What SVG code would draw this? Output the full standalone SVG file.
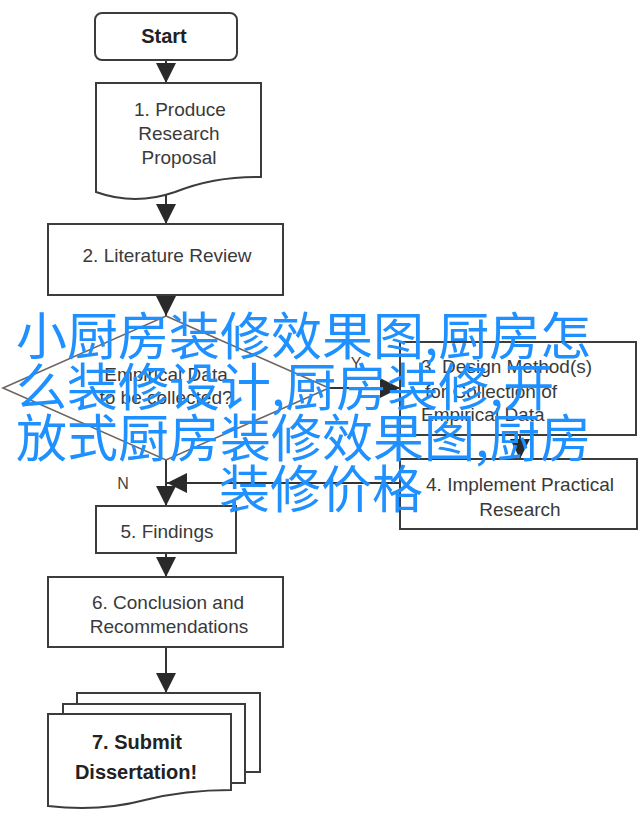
<svg xmlns="http://www.w3.org/2000/svg" width="640" height="814" viewBox="0 0 640 814">
<style>
.box{fill:#fff;stroke:#3c3c3c;stroke-width:2}
.dia{fill:#fff;stroke:#6e6460;stroke-width:1.6}
.t{font-family:"Liberation Sans",Arial,sans-serif;font-size:19px;fill:#3a3a3a;text-anchor:middle}
.b{font-weight:bold;font-size:20px;fill:#222}
.s{font-size:16px;fill:#444}
.l{text-anchor:start}
.c{stroke:#333;stroke-width:2;fill:none}
.wm{font-family:"Noto Sans CJK SC","Noto Sans CJK JP",sans-serif;font-size:51px;fill:#1e90ff}
</style>
<defs>
<marker id="ah" viewBox="0 0 20 20" refX="20" refY="10" markerWidth="20" markerHeight="20" markerUnits="userSpaceOnUse" orient="auto">
<path d="M0,0 L20,10 L0,20 Z" fill="#2a2a2a"/>
</marker>
</defs>
<rect width="640" height="814" fill="#fff"/>
<g id="connectors">
<line class="c" x1="166" y1="60" x2="166" y2="83" marker-end="url(#ah)"/>
<line class="c" x1="166" y1="194" x2="166" y2="224" marker-end="url(#ah)"/>
<line class="c" x1="166" y1="295" x2="166" y2="316" marker-end="url(#ah)"/>
<line class="c" x1="329" y1="388" x2="400" y2="388" marker-end="url(#ah)"/>
<line class="c" x1="520" y1="435" x2="520" y2="459" marker-end="url(#ah)"/>
<line class="c" x1="400" y1="483" x2="167" y2="483" marker-end="url(#ah)"/>
<line class="c" x1="166" y1="460" x2="166" y2="506" marker-end="url(#ah)"/>
<line class="c" x1="166" y1="553" x2="166" y2="577" marker-end="url(#ah)"/>
<line class="c" x1="166" y1="647" x2="166" y2="693" marker-end="url(#ah)"/>
<text class="t s" x="356" y="369">Y</text>
<text class="t s" x="123" y="489">N</text>
</g>
<g id="start">
<rect class="box" x="95" y="13" width="142" height="47" rx="7"/>
<text class="t b" x="164" y="43">Start</text>
</g>
<g id="step1">
<path class="box" d="M96,83 H261 V177 Q215,176 175,192 Q135,206 96,192 Z"/>
<text class="t" x="180" y="116">1. Produce</text>
<text class="t" x="179" y="140">Research</text>
<text class="t" x="179" y="164">Proposal</text>
</g>
<g id="step2">
<rect class="box" x="48" y="224" width="235" height="71"/>
<text class="t" x="167" y="262">2. Literature Review</text>
</g>
<g id="decision">
<polygon class="dia" points="166,316 329,388 166,460 3,388"/>
<text class="t" x="166" y="381">Empirical Data</text>
<text class="t" x="166" y="404">to be collected?</text>
</g>
<g id="step3">
<rect class="box" x="400" y="342" width="236" height="93"/>
<text class="t l" x="421" y="373">3. Design Method(s)</text>
<text class="t l" x="425" y="398">for Collection of</text>
<text class="t l" x="421" y="421">Empirical Data</text>
</g>
<g id="step4">
<rect class="box" x="400" y="459" width="237" height="70"/>
<text class="t" x="520" y="491">4. Implement Practical</text>
<text class="t" x="520" y="516">Research</text>
</g>
<g id="step5">
<rect class="box" x="96" y="506" width="140" height="47"/>
<text class="t" x="167" y="538">5. Findings</text>
</g>
<g id="step6">
<rect class="box" x="48" y="577" width="235" height="70"/>
<text class="t" x="168" y="609">6. Conclusion and</text>
<text class="t" x="169" y="633">Recommendations</text>
</g>
<g id="step7">
<rect class="box" x="77" y="693" width="183" height="79"/>
<rect class="box" x="63" y="704" width="182" height="79"/>
<path class="box" d="M48,714 H231 V790 Q185,790 145,800 Q100,812 48,806 Z"/>
<text class="t b" x="137" y="749">7. Submit</text>
<text class="t b" x="136" y="779">Dissertation!</text>
</g>
<g id="watermark">
<text class="wm" x="16" y="355">小厨房装修效果图,厨房怎</text>
<text class="wm" x="16" y="406">么装修设计,厨房装修,开</text>
<text class="wm" x="16" y="457">放式厨房装修效果图,厨房</text>
<text class="wm" x="219" y="508">装修价格</text>
</g>
</svg>
